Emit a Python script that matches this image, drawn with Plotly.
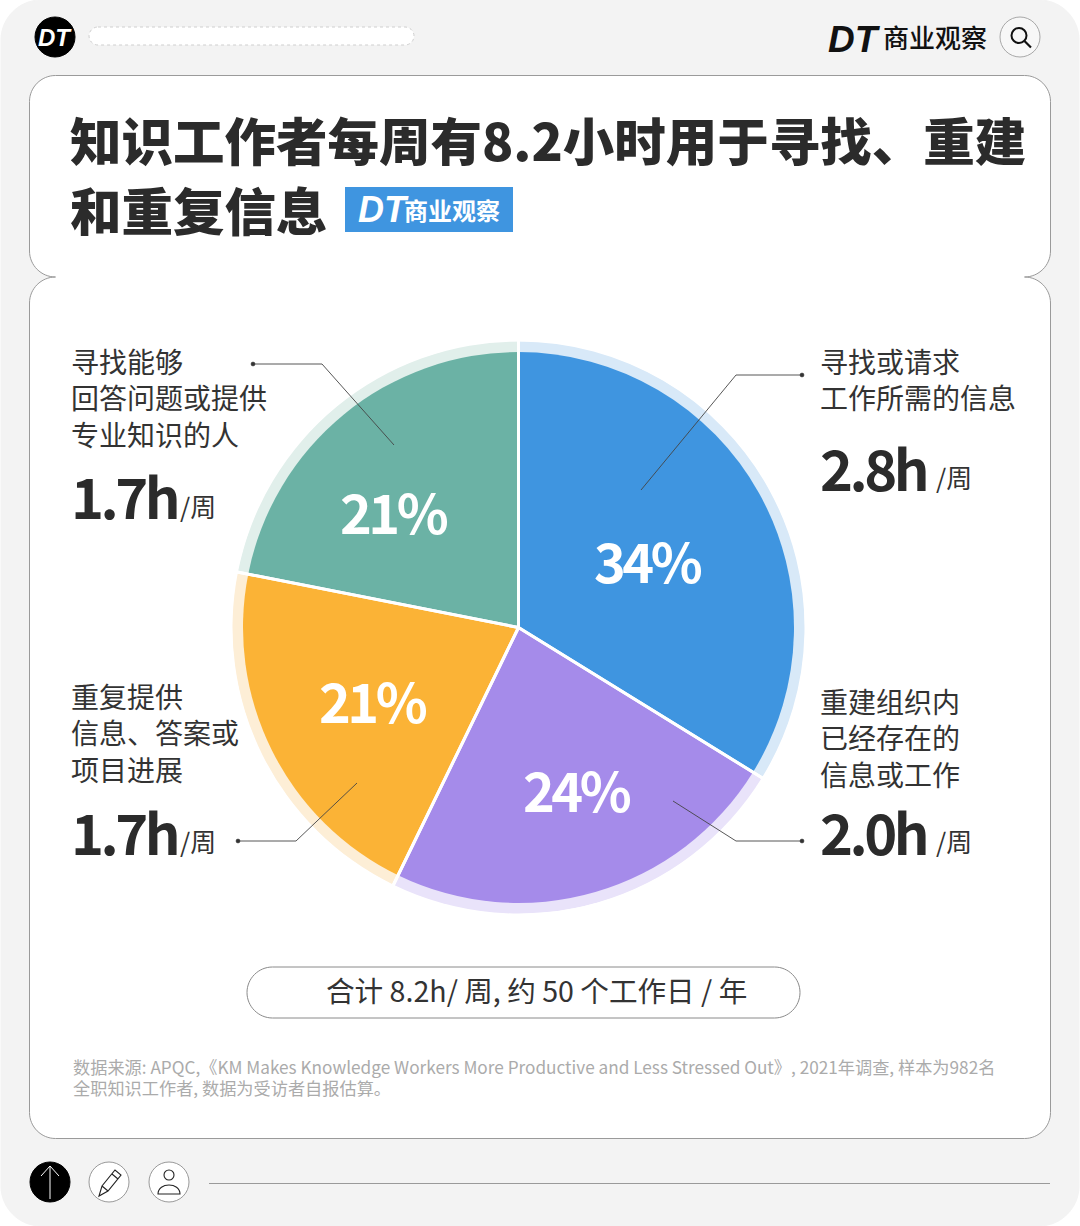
import plotly.graph_objects as go

# ---- data ----
categories = ["寻找或请求<br>工作所需的信息", "重建组织内<br>已经存在的<br>信息或工作", "重复提供<br>信息、答案或<br>项目进展", "寻找能够<br>回答问题或提供<br>专业知识的人"]
hours = ["2.8h", "2.0h", "1.7h", "1.7h"]
shares_label = ["34%", "24%", "21%", "21%"]
slice_values = [33.8, 23.4, 20.9, 21.9]   # slice sizes
colors = ["#3F95E0", "#A58BEA", "#FBB336", "#6BB2A5"]
ring_colors = ["#D8E9F8", "#E9E3FA", "#FDEED6", "#E1EFEB"]
title_lines = ["知识工作者每周有8.2小时用于寻找、重建", "和重复信息"]
total_text = "合计 8.2h/ 周, 约 50 个工作日 / 年"
source_lines = ["数据来源: APQC,《KM Makes Knowledge Workers More Productive and Less Stressed Out》, 2021年调查, 样本为982名",
                "全职知识工作者, 数据为受访者自报估算。"]

W, H = 1080, 1226
CJK = "Noto Sans CJK SC"
NUM = "Noto Sans CJK SC"
INK = "#2B2B2B"
cx, cy, r_in, r_out = 518.5, 627.5, 275.5, 286


def dom(c, r, size, flip=False):
    a, b = (c - r) / size, (c + r) / size
    return [1 - b, 1 - a] if flip else [a, b]


def pie(radius, cols, line_w):
    return go.Pie(values=slice_values, sort=False, direction="clockwise", rotation=0,
                  marker=dict(colors=cols, line=dict(color="white", width=line_w)),
                  textinfo="none", hoverinfo="skip", showlegend=False,
                  domain=dict(x=dom(cx, radius, W), y=dom(cy, radius, H, True)))


fig = go.Figure()
fig.add_trace(go.Scatter(x=[0, W], y=[0, H], mode="none", hoverinfo="skip", showlegend=False))
fig.add_trace(pie(r_out, ring_colors, 0))
fig.add_trace(pie(r_in, colors, 0))
# transparent pie on top: only its white radial dividers show
fig.add_trace(pie(r_out + 2, ["rgba(0,0,0,0)"] * 4, 3))


def corner_path(x0, y0, x1, y1, r):
    k = r * 0.45
    return (f"M{x0+r},{y0} H{x1-r} C{x1-k},{y0} {x1},{y0+k} {x1},{y0+r} V{y1-r} "
            f"C{x1},{y1-k} {x1-k},{y1} {x1-r},{y1} H{x0+r} C{x0+k},{y1} {x0},{y1-k} {x0},{y1-r} "
            f"V{y0+r} C{x0},{y0+k} {x0+k},{y0} {x0+r},{y0} Z")


def card_path():
    r, k = 26, 26 * 0.45
    L, R, T, M, B = 29.5, 1050.5, 75.5, 277, 1138.5
    return (f"M{L+r},{T} H{R-r} C{R-k},{T} {R},{T+k} {R},{T+r} V{M-r} C{R},{M-k} {R-k},{M} {R-r},{M} "
            f"C{R-k},{M} {R},{M+k} {R},{M+r} V{B-r} C{R},{B-k} {R-k},{B} {R-r},{B} H{L+r} "
            f"C{L+k},{B} {L},{B-k} {L},{B-r} V{M+r} C{L},{M+k} {L+k},{M} {L+r},{M} "
            f"C{L+k},{M} {L},{M-k} {L},{M-r} V{T+r} C{L},{T+k} {L+k},{T} {L+r},{T} Z")


shapes = []
def S(**k):
    k.setdefault("xref", "x"); k.setdefault("yref", "y"); shapes.append(k)
def circle(x, y, r, fill, line="#999999", w=1, layer="below"):
    S(type="circle", x0=x-r, x1=x+r, y0=y-r, y1=y+r, fillcolor=fill, line=dict(color=line, width=w), layer=layer)
def path(d, line="#333333", w=1, fill="rgba(0,0,0,0)", layer="above"):
    S(type="path", path=d, line=dict(color=line, width=w), fillcolor=fill, layer=layer)

path(corner_path(1, 0, 1079, 1226, 40), line="#F3F3F3", fill="#F3F3F3", layer="below")
path(card_path(), line="#9A9A9A", w=1, fill="white", layer="below")
# top bar
circle(55, 37, 20, "#000000", "#000000")
path(corner_path(89, 27, 414, 45, 9), line="#CFCFCF", w=1, fill="white", layer="below")
shapes[-1]["line"]["dash"] = "dot"
circle(1020, 37, 20, "#F7F7F7", "#A8A8A8")
circle(1019, 35.5, 7.5, "rgba(0,0,0,0)", "#111111", 2, "above")
path("M1024.5,41 L1031,47.5", line="#111111", w=2.2)
# brand tag
S(type="rect", x0=345, x1=513, y0=187, y1=232, fillcolor="#3F95E0", line=dict(width=0), layer="below")
# total pill
path(corner_path(247, 967, 800, 1018, 25.5), line="#8A8A8A", w=1, fill="white", layer="below")
# footer
circle(50, 1182, 20, "#000000", "#000000")
path("M50,1199 V1167 M41,1176 L50,1166 L59,1176", line="white", w=1)
circle(109, 1182, 20, "white", "#999999")
path("M99,1196 L102,1186 L115,1170 L121,1175 L108,1191 Z M112,1174 L118,1179 M102,1186 L108,1191", line="#222222", w=1.1)
circle(169, 1182, 20, "white", "#999999")
circle(169, 1175, 5, "rgba(0,0,0,0)", "#222222", 1.1, "above")
path("M158,1194 C158,1182 180,1182 180,1194 Z M158,1194 H180", line="#222222", w=1.1)
S(type="line", x0=209, x1=1050, y0=1183.5, y1=1183.5, line=dict(color="#9A9A9A", width=1), layer="below")

# leader lines
leaders = [[(802, 375), (736, 375), (641, 490)], [(802, 841), (736, 841), (673, 801)],
           [(238, 841), (296, 841), (357, 783)], [(253, 364), (322, 364), (394, 445)]]
for pts in leaders:
    path("M" + " L".join(f"{x},{y}" for x, y in pts), line="#444444", w=0.9)
    circle(pts[0][0], pts[0][1], 2, "#333333", "#333333", 0.5, "above")

ann = []
def T(x, y, text, size, color=INK, family=CJK, weight=400, anchor="left", italic=False):
    ann.append(dict(x=x, y=y, xref="x", yref="y", text=text, showarrow=False, xanchor=anchor, yanchor="middle",
                    align="left", font=dict(size=size, color=color, family=family, weight=weight,
                                            style="italic" if italic else "normal")))

T(68, 138, title_lines[0], 51.5, weight=900)
T(68, 208, title_lines[1], 51.5, weight=900)

LOGO = "Liberation Sans"
T(55, 37, "DT", 24, "white", LOGO, 700, "center", True)
T(826, 39, "DT", 37, "#111111", LOGO, 700, "left", True)
T(881, 36, "商业观察", 26, "#111111", CJK, 500)
T(356, 209, "DT", 36, "white", LOGO, 700, "left", True)
T(402, 209, "商业观察", 24, "white", CJK, 700)

# labels: order blue, purple, orange, green
label_pos = [(818, 379), (818, 737), (69, 732), (69, 397)]
hour_pos = [(818, 466), (818, 830), (69, 830), (69, 494)]
unit_pos = [(934, 476), (934, 840), (178, 840), (178, 505)]
pct_pos = [(652, 559), (581, 788), (377, 699), (398, 510)]
for i in range(4):
    T(*label_pos[i], categories[i], 28, "#333333")
    T(*hour_pos[i], hours[i], 56, INK, NUM, 700)
    T(*unit_pos[i], "/周", 26, "#333333")
    T(*pct_pos[i], shares_label[i], 54, "white", NUM, 700, "center")

T(324, 989, total_text, 28.6, "#333333")
T(71, 1066, source_lines[0], 17.2, "#ABABAB")
T(71, 1087, source_lines[1], 17.2, "#ABABAB")

fig.update_layout(
    width=W, height=H, margin=dict(l=0, r=0, t=0, b=0, pad=0), autosize=False,
    paper_bgcolor="white", plot_bgcolor="rgba(0,0,0,0)", showlegend=False,
    xaxis=dict(range=[0, W], visible=False, fixedrange=True),
    yaxis=dict(range=[H, 0], visible=False, fixedrange=True),
    shapes=shapes, annotations=ann,
)
tighten = """
document.body.style.margin='0';document.body.style.overflow='hidden';
document.querySelectorAll('.annotation-text').forEach(function(t){
  var s=t.textContent;
  if(/^[0-9][.][0-9]h$/.test(s)){t.style.letterSpacing='-3.5px';}
  if(/^[0-9]+%$/.test(s)){t.style.letterSpacing='-3.5px';}
});
"""
fig.write_html("out.html", config=dict(displayModeBar=False), post_script=tighten)
